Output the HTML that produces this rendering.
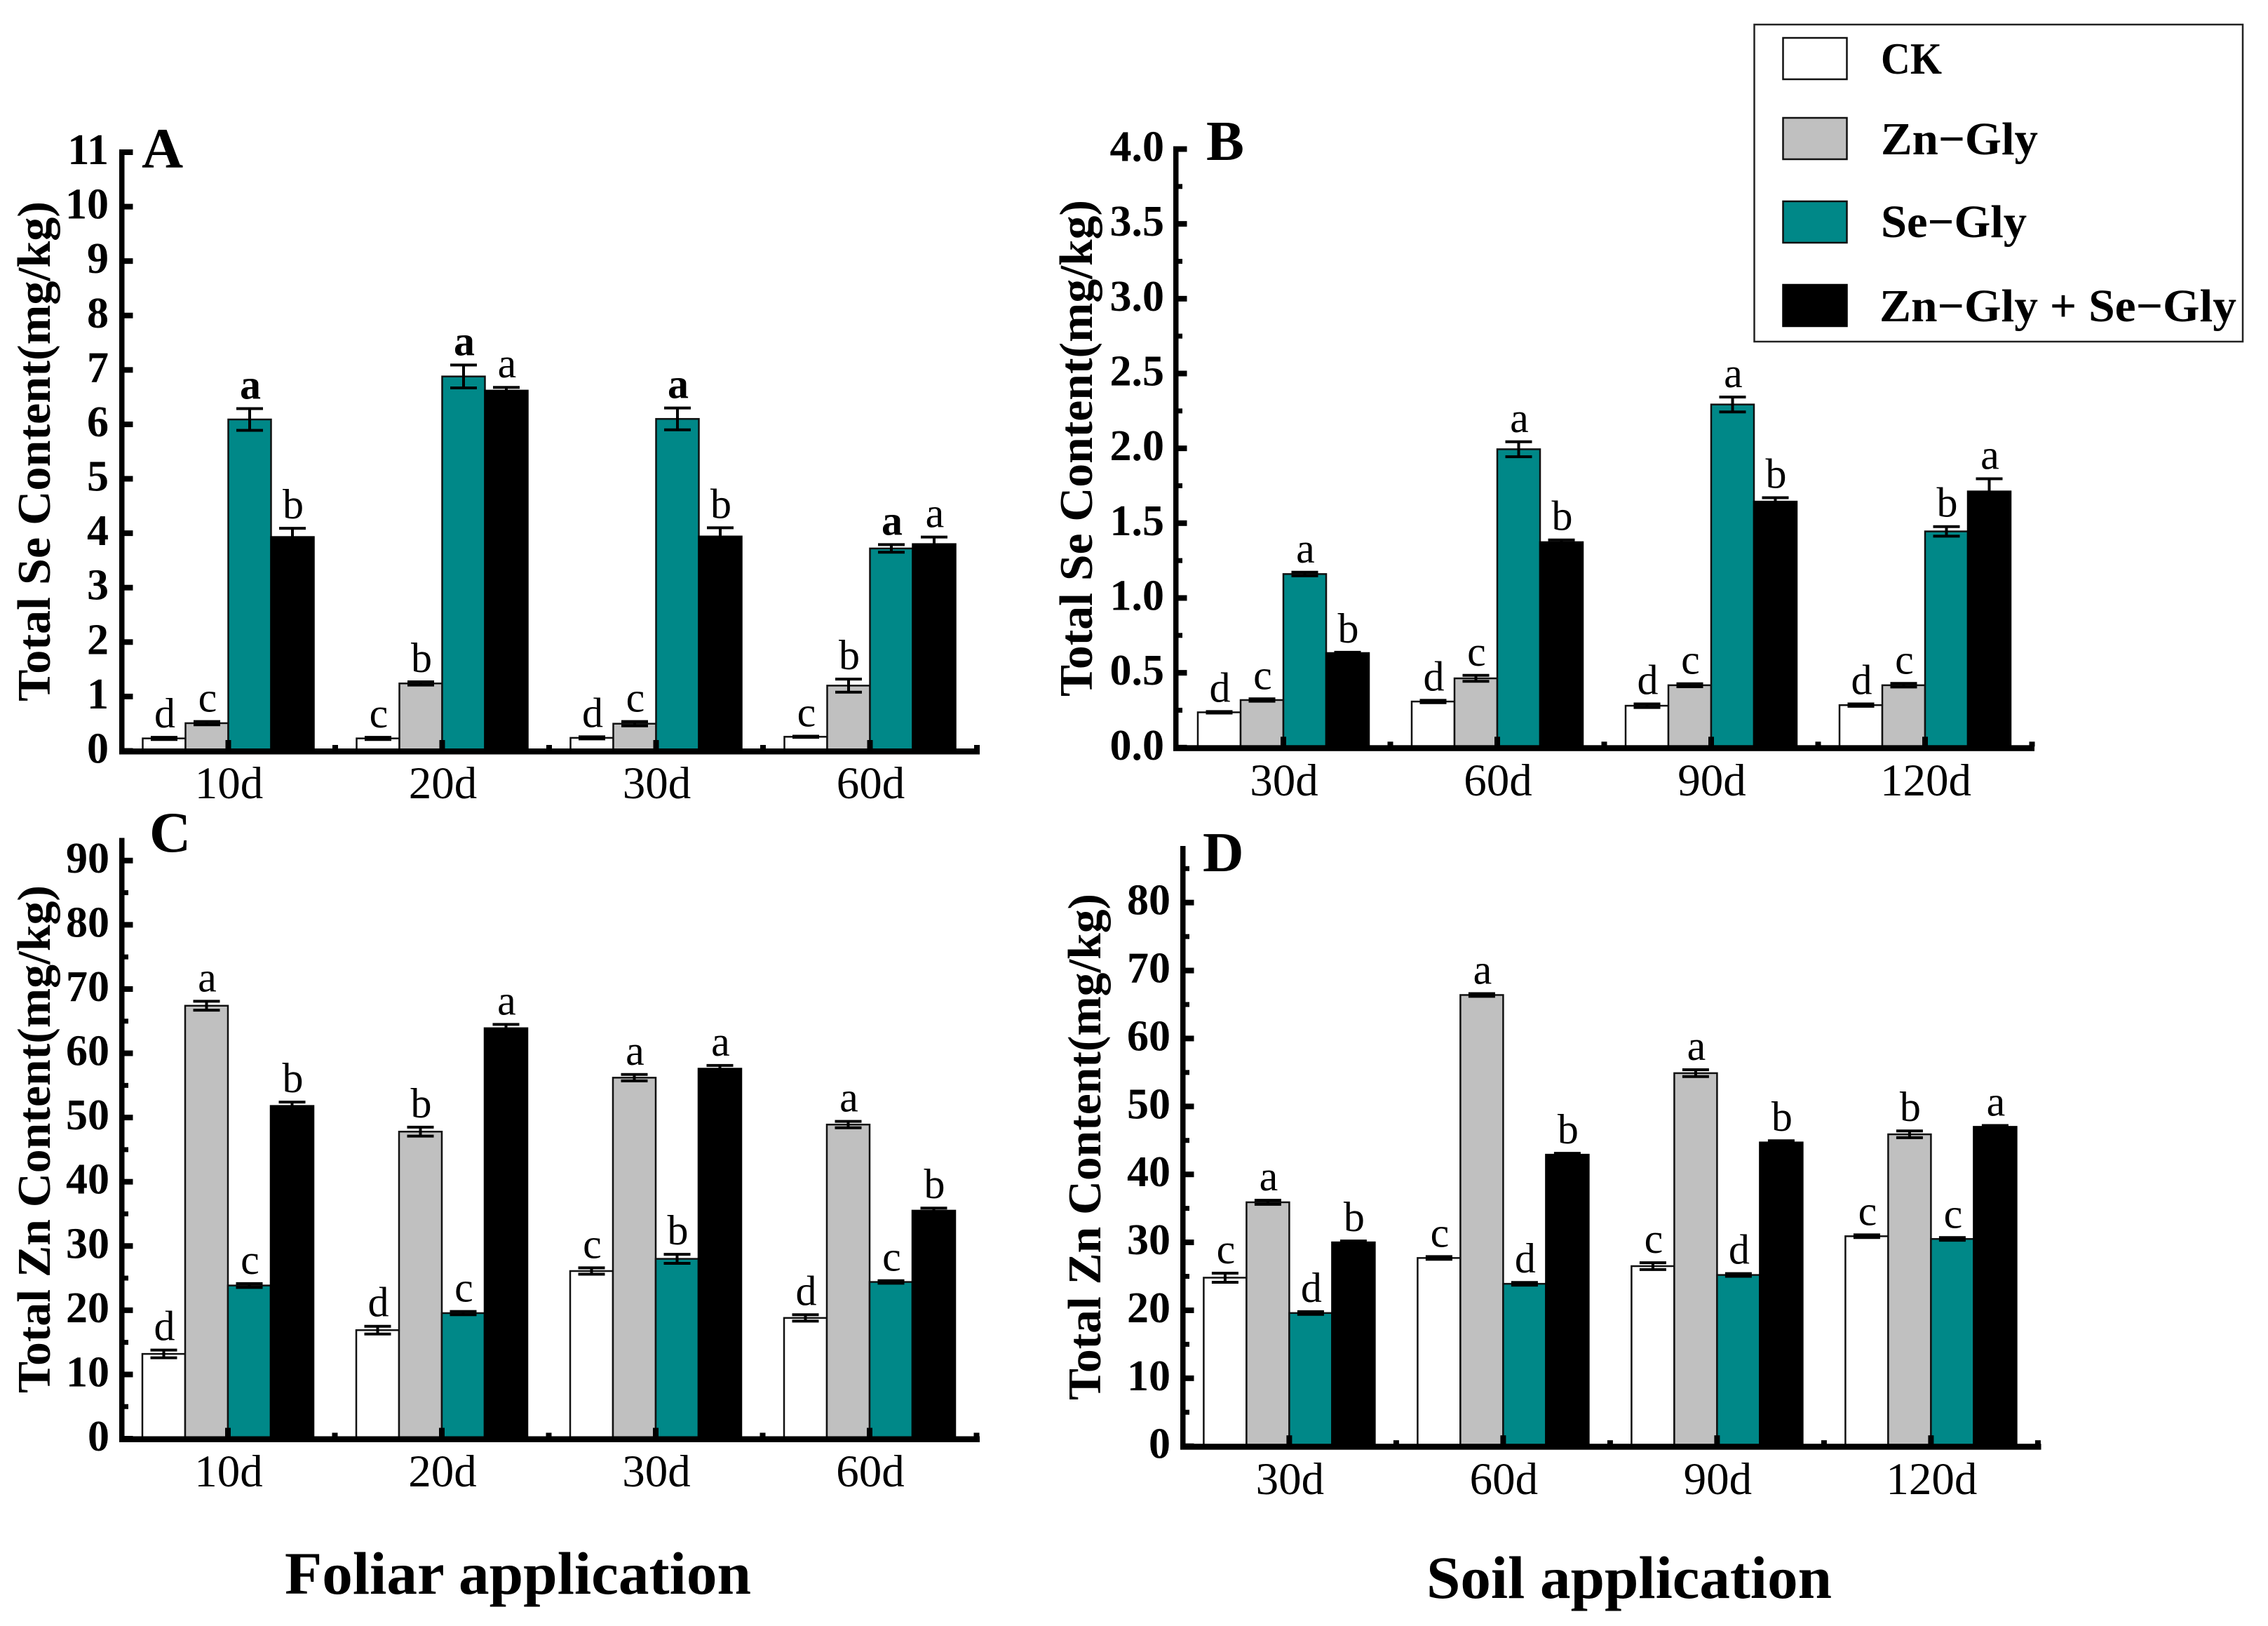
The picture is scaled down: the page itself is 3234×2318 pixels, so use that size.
<!DOCTYPE html>
<html lang="en">
<head>
<meta charset="utf-8">
<title>Total Se and Zn content by foliar and soil application</title>
<style>
html,body{margin:0;padding:0;background:#fff;}
svg{display:block;}
text{font-family:"Liberation Serif","Times New Roman",serif;fill:#000;}
.b{font-weight:bold;}
</style>
</head>
<body>
<svg id="figure" xmlns="http://www.w3.org/2000/svg" width="3234" height="2318" viewBox="0 0 3234 2318">
  <rect x="0" y="0" width="3234" height="2318" fill="#fff"/>

  <g id="panel-a"></g>
  <g id="panel-b"></g>
  <g id="panel-c"></g>
  <g id="panel-d"></g>

  <text class="b" x="202" y="239" font-size="82">A</text>
  <text class="b" x="1720" y="228" font-size="81">B</text>
  <text class="b" x="213" y="1214" font-size="82">C</text>
  <text class="b" x="1715" y="1242" font-size="81">D</text>

  <text class="b" transform="translate(71,1000) rotate(-90)" font-size="67" textLength="713" lengthAdjust="spacingAndGlyphs">Total Se Content(mg/kg)</text>
  <text class="b" transform="translate(1557,993) rotate(-90)" font-size="67" textLength="708" lengthAdjust="spacingAndGlyphs">Total Se Content(mg/kg)</text>
  <text class="b" transform="translate(71,1986) rotate(-90)" font-size="67" textLength="724" lengthAdjust="spacingAndGlyphs">Total Zn Content(mg/kg)</text>
  <text class="b" transform="translate(1569,1996) rotate(-90)" font-size="67" textLength="722" lengthAdjust="spacingAndGlyphs">Total Zn Content(mg/kg)</text>

  <text class="b" x="406" y="2272" font-size="86" textLength="665" lengthAdjust="spacingAndGlyphs">Foliar application</text>
  <text class="b" x="2034" y="2278" font-size="86" textLength="578" lengthAdjust="spacingAndGlyphs">Soil application</text>

  <g>
    <rect x="2501.5" y="35" width="696.5" height="452" fill="#fff" stroke="#222" stroke-width="2.5"/>
    <g>
      <rect x="2542.5" y="54" width="91" height="59" fill="#fff" stroke="#111" stroke-width="2.5"/>
      <text class="b" x="2682" y="105" font-size="64" textLength="87" lengthAdjust="spacingAndGlyphs">CK</text>
    </g>
    <g>
      <rect x="2542.5" y="168" width="91" height="59" fill="#c0c0c0" stroke="#111" stroke-width="2.5"/>
      <text class="b" x="2682" y="220" font-size="66" textLength="224" lengthAdjust="spacingAndGlyphs">Zn−Gly</text>
    </g>
    <g>
      <rect x="2542.5" y="287" width="91" height="59" fill="#008888" stroke="#111" stroke-width="2.5"/>
      <text class="b" x="2682" y="338" font-size="66" textLength="208" lengthAdjust="spacingAndGlyphs">Se−Gly</text>
    </g>
    <g>
      <rect x="2542.5" y="406" width="91" height="59" fill="#000" stroke="#000" stroke-width="2.5"/>
      <text class="b" x="2680" y="458" font-size="66" textLength="509" lengthAdjust="spacingAndGlyphs">Zn−Gly + Se−Gly</text>
    </g>
  </g>
</svg>

<script>
/* ---------- Panel A: Total Se, foliar ---------- */
const aCategories = ['10d', '20d', '30d', '60d'];
const aYTicks = ['0', '1', '2', '3', '4', '5', '6', '7', '8', '9', '10', '11'];
const aCK = [0.23, 0.23, 0.24, 0.26];
const aZn = [0.51, 1.24, 0.50, 1.20];
const aSe = [6.09, 6.88, 6.10, 3.72];
const aCombo = [3.93, 6.62, 3.94, 3.80];
const aErrCK = [0.02, 0.02, 0.02, 0.01];
const aErrZn = [0.03, 0.03, 0.04, 0.12];
const aErrSe = [0.20, 0.21, 0.20, 0.07];
const aErrCombo = [0.16, 0.06, 0.16, 0.13];
const aLetCK = ['d', 'c', 'd', 'c'];
const aLetZn = ['c', 'b', 'c', 'b'];
const aLetSe = ['a', 'a', 'a', 'a'];
const aLetCombo = ['b', 'a', 'b', 'a'];

/* ---------- Panel B: Total Se, soil ---------- */
const bCategories = ['30d', '60d', '90d', '120d'];
const bYTicks = ['0.0', '0.5', '1.0', '1.5', '2.0', '2.5', '3.0', '3.5', '4.0'];
const bCK = [0.236, 0.308, 0.280, 0.284];
const bZn = [0.318, 0.463, 0.417, 0.417];
const bSe = [1.160, 1.994, 2.293, 1.445];
const bCombo = [0.632, 1.373, 1.644, 1.712];
const bErrCK = [0.005, 0.008, 0.012, 0.008];
const bErrZn = [0.008, 0.020, 0.010, 0.012];
const bErrSe = [0.012, 0.050, 0.050, 0.032];
const bErrCombo = [0.005, 0.015, 0.026, 0.085];
const bLetCK = ['d', 'd', 'd', 'd'];
const bLetZn = ['c', 'c', 'c', 'c'];
const bLetSe = ['a', 'a', 'a', 'b'];
const bLetCombo = ['b', 'b', 'b', 'a'];

/* ---------- Panel C: Total Zn, foliar ---------- */
const cCategories = ['10d', '20d', '30d', '60d'];
const cYTicks = ['0', '10', '20', '30', '40', '50', '60', '70', '80', '90'];
const cCK = [13.2, 16.9, 26.1, 18.8];
const cZn = [67.4, 47.8, 56.2, 48.9];
const cSe = [23.85, 19.55, 28.0, 24.4];
const cCombo = [51.8, 63.9, 57.6, 35.5];
const cErrCK = [0.6, 0.6, 0.5, 0.5];
const cErrZn = [0.7, 0.7, 0.5, 0.5];
const cErrSe = [0.3, 0.25, 0.7, 0.2];
const cErrCombo = [0.6, 0.6, 0.5, 0.4];
const cLetCK = ['d', 'd', 'c', 'd'];
const cLetZn = ['a', 'b', 'a', 'a'];
const cLetSe = ['c', 'c', 'b', 'c'];
const cLetCombo = ['b', 'a', 'a', 'b'];

/* ---------- Panel D: Total Zn, soil ---------- */
const dCategories = ['30d', '60d', '90d', '120d'];
const dYTicks = ['0', '10', '20', '30', '40', '50', '60', '70', '80'];
const dCK = [24.8, 27.7, 26.5, 30.9];
const dZn = [35.9, 66.4, 54.9, 45.9];
const dSe = [19.6, 23.9, 25.2, 30.5];
const dCombo = [30.0, 42.9, 44.7, 47.0];
const dErrCK = [0.67, 0.2, 0.5, 0.2];
const dErrZn = [0.3, 0.2, 0.5, 0.5];
const dErrSe = [0.2, 0.2, 0.2, 0.2];
const dErrCombo = [0.2, 0.2, 0.25, 0.2];
const dLetCK = ['c', 'c', 'c', 'c'];
const dLetZn = ['a', 'a', 'a', 'b'];
const dLetSe = ['d', 'd', 'd', 'c'];
const dLetCombo = ['b', 'b', 'b', 'a'];

const seriesNames = ['ck', 'zn-gly', 'se-gly', 'zn-gly-se-gly'];
const seriesFills = ['#ffffff', '#c0c0c0', '#008888', '#000000'];

const NS = 'http://www.w3.org/2000/svg';

function make(tag, parent, attrs) {
  const el = document.createElementNS(NS, tag);
  for (const k in attrs) el.setAttribute(k, attrs[k]);
  parent.appendChild(el);
  return el;
}

function drawPanel(p) {
  const root = document.getElementById('panel-' + p.id);
  const yTickVals = p.yTicks.map(Number);
  const topTick = yTickVals[yTickVals.length - 1];
  const unit = (p.zeroY - p.topTickY) / topTick;
  const y = function (v) { return p.zeroY - v * unit; };
  const x = function (i) { return p.firstCenter + i * p.step; };
  const axisY = p.zeroY + 0.5;

  /* bars */
  p.values.forEach(function (vals, s) {
    vals.forEach(function (v, i) {
      const bar = make('rect', root, {
        x: x(i) + (s - 2) * p.barW,
        y: y(v),
        width: p.barW,
        height: Math.max(0, p.zeroY - y(v)),
        fill: seriesFills[s],
        stroke: s === 3 ? '#000' : '#111',
        'stroke-width': 2.5
      });
      
      
    });
  });

  /* error bars and significance letters */
  p.values.forEach(function (vals, s) {
    vals.forEach(function (v, i) {
      const cx = x(i) + (s - 1.5) * p.barW;
      const e = p.errors[s][i];
      const top = y(v + e);
      const bot = y(v - e);
      const eb = make('path', root, {
        d: 'M' + (cx - 19) + ' ' + top + 'H' + (cx + 19) +
           'M' + cx + ' ' + top + 'V' + bot +
           'M' + (cx - 19) + ' ' + bot + 'H' + (cx + 19),
        fill: 'none',
        stroke: '#000',
        'stroke-width': 4
      });
      
      

      const lab = make('text', root, {
        x: cx + 1,
        y: top - 14,
        'font-size': 60,
        'text-anchor': 'middle'
      });
      if (p.boldSeries === s) lab.setAttribute('font-weight', 'bold');
      lab.textContent = p.letters[s][i];
      
      
    });
  });

  /* y axis spine */
  const spine = make('rect', root, {
    x: p.spineX, y: p.axisTop, width: 7.5, height: axisY + 4 - p.axisTop, fill: '#000'
  });
  
  

  /* x axis line */
  const xLine = make('rect', root, {
    x: p.spineX, y: axisY - 4, width: p.axisEnd - p.spineX, height: 8.5, fill: '#000'
  });
  
  

  /* y ticks */
  p.yTicks.forEach(function (label, k) {
    const v = yTickVals[k];
    const t = make('rect', root, {
      x: p.spineX, y: y(v) - 4, width: 19.5, height: 8, fill: '#000'
    });
    
    

    const tl = make('text', root, {
      x: p.labelRight, y: y(v) + 17, 'font-size': 62, 'font-weight': 'bold', 'text-anchor': 'end'
    });
    tl.textContent = label;
    
    
  });

  /* y minor ticks */
  if (p.minors) {
    const stepV = yTickVals[1] - yTickVals[0];
    for (let m = stepV / 2; y(m) > p.axisTop; m += stepV) {
      const mt = make('rect', root, {
        x: p.spineX, y: y(m) - 3.5, width: 13, height: 7, fill: '#000'
      });
      
      
    }
  }

  /* x ticks and labels */
  p.categories.forEach(function (cat, i) {
    const major = make('rect', root, {
      x: x(i) - 4, y: axisY - 16, width: 8, height: 14, fill: '#000'
    });
    
    

    const minor = make('rect', root, {
      x: x(i) + p.step / 2 - 4, y: axisY - 9, width: 8, height: 7, fill: '#000'
    });
    
    

    const xl = make('text', root, {
      x: x(i) + 1, y: p.xLabelY, 'font-size': 65, 'text-anchor': 'middle'
    });
    xl.textContent = cat;
    
    
  });
}

drawPanel({
  id: 'a', categories: aCategories, yTicks: aYTicks,
  values: [aCK, aZn, aSe, aCombo],
  errors: [aErrCK, aErrZn, aErrSe, aErrCombo],
  letters: [aLetCK, aLetZn, aLetSe, aLetCombo],
  boldSeries: 2, minors: false,
  firstCenter: 325.5, step: 305, barW: 61,
  spineX: 170, axisTop: 214, axisEnd: 1397,
  zeroY: 1070.5, topTickY: 217, labelRight: 155, xLabelY: 1138
});

drawPanel({
  id: 'b', categories: bCategories, yTicks: bYTicks,
  values: [bCK, bZn, bSe, bCombo],
  errors: [bErrCK, bErrZn, bErrSe, bErrCombo],
  letters: [bLetCK, bLetZn, bLetSe, bLetCombo],
  boldSeries: -1, minors: true,
  firstCenter: 1830, step: 305, barW: 61,
  spineX: 1673, axisTop: 208.5, axisEnd: 2901,
  zeroY: 1065.8, topTickY: 212.5, labelRight: 1660, xLabelY: 1134
});

drawPanel({
  id: 'c', categories: cCategories, yTicks: cYTicks,
  values: [cCK, cZn, cSe, cCombo],
  errors: [cErrCK, cErrZn, cErrSe, cErrCombo],
  letters: [cLetCK, cLetZn, cLetSe, cLetCombo],
  boldSeries: -1, minors: true,
  firstCenter: 325, step: 305, barW: 61,
  spineX: 170, axisTop: 1194.5, axisEnd: 1397,
  zeroY: 2051, topTickY: 1226.8, labelRight: 156, xLabelY: 2119
});

drawPanel({
  id: 'd', categories: dCategories, yTicks: dYTicks,
  values: [dCK, dZn, dSe, dCombo],
  errors: [dErrCK, dErrZn, dErrSe, dErrCombo],
  letters: [dLetCK, dLetZn, dLetSe, dLetCombo],
  boldSeries: -1, minors: true,
  firstCenter: 1838.4, step: 305, barW: 61,
  spineX: 1683, axisTop: 1206, axisEnd: 2910.5,
  zeroY: 2061.7, topTickY: 1286.7, labelRight: 1669, xLabelY: 2130
});
</script>
</body>
</html>
